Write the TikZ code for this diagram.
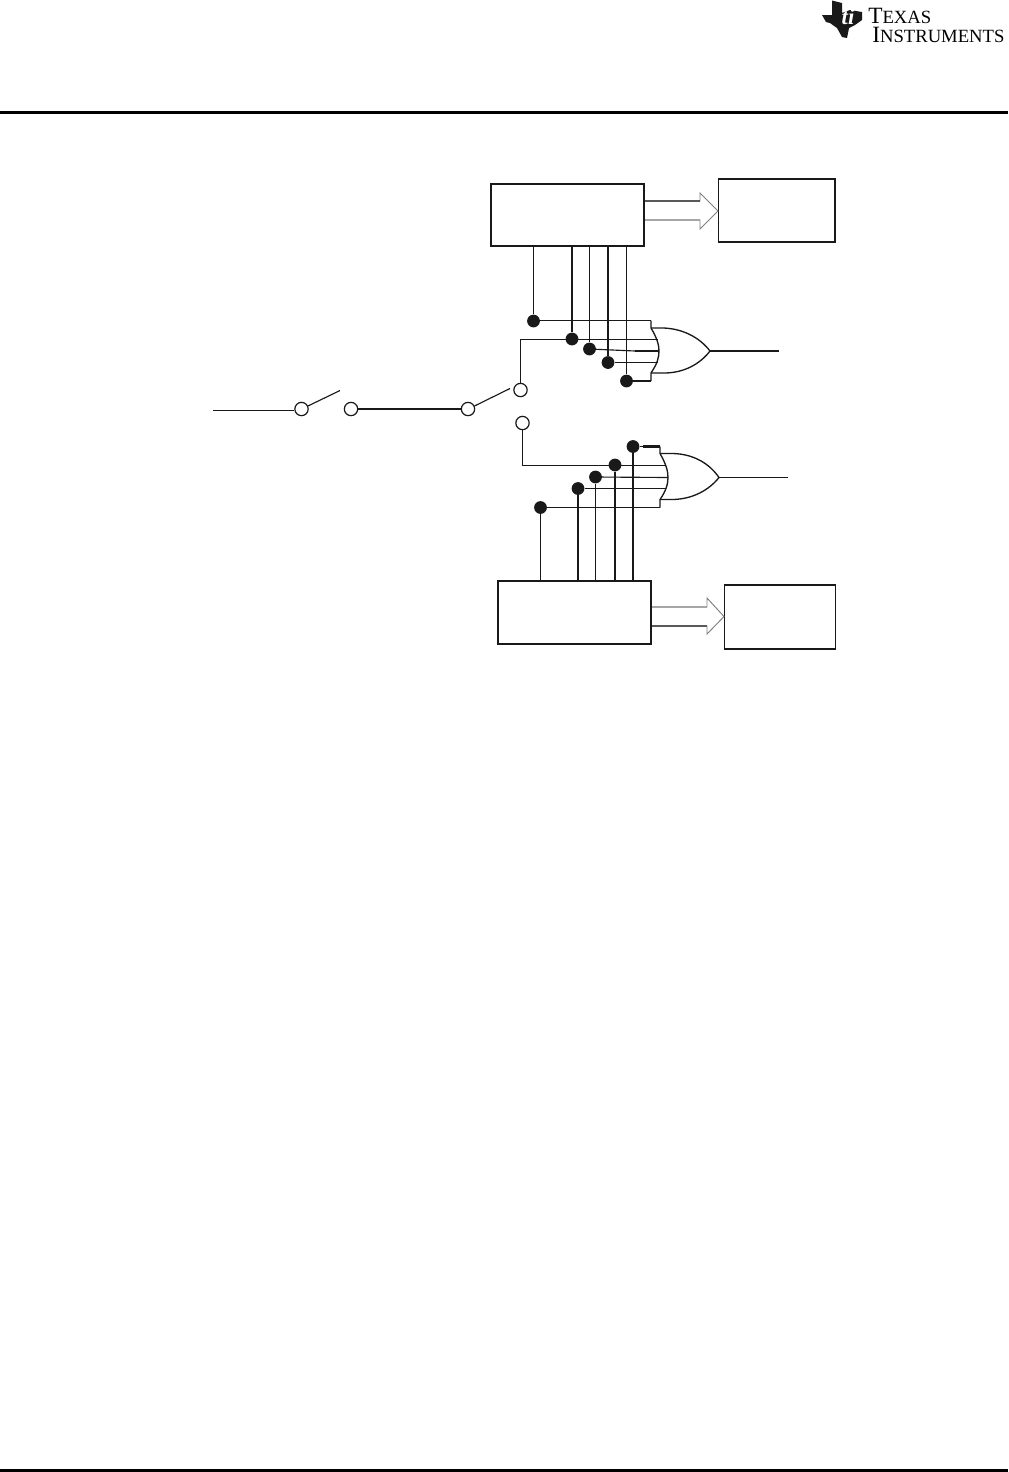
\documentclass[tikz,border=0pt]{standalone}
\usepackage{fontspec}
\setmainfont{Liberation Serif}
\tikzset{
  x=0.75pt,y=-0.75pt,
  thin line/.style={line width=0.85pt,draw=black!90},
  thick line/.style={line width=1.6pt,draw=black!90},
  blockbox/.style={draw=black!90,line width=1.2pt,fill=white,inner sep=0pt,anchor=north west},
  term/.style={circle,draw=black!90,line width=0.9pt,fill=white,minimum size=10pt,inner sep=0pt},
  dot/.style={circle,fill=black!90,minimum size=9.6pt,inner sep=0pt},
  busarrow/.style={draw=black!50,line width=0.7pt,fill=white,line join=miter},
  busdark/.style={draw=black!65,line width=0.8pt},
  buslight/.style={draw=black!35,line width=0.8pt},
  gateline/.style={line width=1pt,draw=black!90,line join=miter},
}
\begin{document}
\begin{tikzpicture}
\useasboundingbox (0,0) rectangle (1008,1472);
\fill[white] (0,0) rectangle (1008,1472);
% rules
\coordinate (hl) at (0,112.5); \coordinate (hr) at (1008,112.5);
\draw[line width=2.25pt,black] (hl) -- (hr);
\coordinate (fl) at (0,1470.5); \coordinate (fr) at (1008,1470.5);
\draw[line width=2.25pt,black] (fl) -- (fr);
% logo
\fill[black!90] (822,15) -- (832,15) -- (832,0.5) -- (842,3) -- (842,13) -- (850,10) -- (862,12) -- (862,20) -- (855,25) -- (849,28) -- (847,38) -- (842,37) -- (837,28) -- (830,23) -- (826,22) -- cycle;
\node[font=\bfseries\itshape\fontsize{17pt}{17pt}\selectfont,white,inner sep=0pt] (ti) at (848,17) {ti};
\node[anchor=north west,inner sep=0pt,align=left,font=\fontsize{17.5pt}{14.25pt}\selectfont] (logotext) at (868,8) {T{\fontsize{14pt}{14pt}\selectfont EXAS}\\\hspace*{3pt}I{\fontsize{14pt}{14pt}\selectfont NSTRUMENTS}};
% blocks
\node[blockbox,minimum width=115pt,minimum height=46.5pt] (A) at (490,183) {};
\node[blockbox,line width=1.4pt,minimum width=87.5pt,minimum height=47pt] (B) at (717.5,178) {};
\node[blockbox,line width=1.5pt,minimum width=115pt,minimum height=47.5pt] (C) at (496.5,580) {};
\node[blockbox,minimum width=83.5pt,minimum height=48pt] (D) at (723.5,584) {};
% bus arrows
\draw[busarrow] (645,201) -- (700,201) -- (700,193) -- (718,211) -- (700,229) -- (700,220) -- (645,220);
\draw[busdark] (645,201) -- (700,201);
\draw[buslight] (645,220) -- (700,220);
\draw[busarrow] (652,607) -- (707,607) -- (707,598) -- (724,616.5) -- (707,634) -- (707,626) -- (652,626);
\draw[buslight] (652,607) -- (707,607);
\draw[busdark] (652,626) -- (707,626);
% terminals
\node[term] (s1) at (301.5,409) {};
\node[term] (s2) at (351,409) {};
\node[term] (s3) at (468,409) {};
\node[term] (s4) at (520.5,390) {};
\node[term] (s5) at (522.5,423) {};
\coordinate (in) at (213,410.5);
\coordinate (b1) at (340,390.5);
\coordinate (b2) at (510,388.5);
\draw[thin line] (in) -- (in -| s1.west);
\draw[thin line] (s1.25) -- (b1);
\draw[thick line] (s2) -- (s3);
\draw[thin line] (s3.25) -- (b2);
% top dots
\node[dot] (a1) at (533.5,321) {};
\node[dot] (a2) at (572,339) {};
\node[dot] (a3) at (589.5,349) {};
\node[dot] (a4) at (608,362.5) {};
\node[dot] (a5) at (626.5,381) {};
\foreach \n/\w in {a1/thin line,a2/thick line,a3/thin line,a4/thick line,a5/thin line}
  \draw[\w] (\n) -- (\n |- A.south);
% gate top
\coordinate (gt1) at (651,320.5); \coordinate (gt2) at (651,328);
\coordinate (gt3) at (651,373); \coordinate (gt4) at (651,381);
\coordinate (gta) at (710,351); \coordinate (gto) at (779,351);
\coordinate (gti2) at (658,339.5); \coordinate (gti3) at (659,351); \coordinate (gti4) at (658,362.5);
\coordinate (st) at (520.5,339.5);
\coordinate (mt) at (635,351);
\draw[thin line] (s4) -- (st) -- (gti2);
\draw[thin line] (a1.east |- gt1) -- (gt1);
\draw[thin line] (a5) -- (gt4);
\draw[thin line] (a3) -- (mt);
\draw[thick line] (mt) -- (gti3);
\draw[thin line] (a4) -- (gti4);
\draw[gateline] (gt1) -- (gt2) .. controls (657,338) and (659,345) .. (gti3) .. controls (659,358) and (657,364) .. (gt3) -- (gt4);
\draw[gateline] (gt2) -- (664,328) .. controls (684,329) and (700,338) .. (gta) .. controls (700,364) and (684,373) .. (664,373) -- (gt3);
\draw[thick line] (gta) -- (gto);
% bottom dots
\node[dot] (c1) at (540.5,507.5) {};
\node[dot] (c2) at (578,488.5) {};
\node[dot] (c3) at (595.5,477) {};
\node[dot] (c4) at (615,465) {};
\node[dot] (c5) at (633,446.5) {};
\foreach \n/\w in {c1/thin line,c2/thick line,c3/thin line,c4/thick line,c5/thick line}
  \draw[\w] (\n) -- (\n |- C.north);
% gate bottom
\coordinate (gb1) at (660,446.5); \coordinate (gb2) at (660,453.5);
\coordinate (gb3) at (660,499.5); \coordinate (gb4) at (660,507.5);
\coordinate (gba) at (719,477.5); \coordinate (gbo) at (788,477.5);
\coordinate (gbi1) at (666,465.5); \coordinate (gbi2) at (668,477.5); \coordinate (gbi3) at (666,488.5);
\coordinate (sb) at (522.5,465.5);
\coordinate (mb) at (643,446.5);
\draw[thin line] (s5) -- (sb) -- (gbi1);
\draw[thin line] (c5) -- (mb);
\draw[thick line] (mb) -- (gb1);
\draw[thin line] (c3) -- (gbi2);
\draw[thin line] (c2) -- (gbi3);
\draw[thin line] (c1) -- (gb4);
\draw[gateline] (gb1) -- (gb2) .. controls (666,464) and (668,471) .. (gbi2) .. controls (668,484) and (666,491) .. (gb3) -- (gb4);
\draw[gateline] (gb2) -- (673,453.5) .. controls (693,454) and (709,463) .. (gba) .. controls (709,490) and (693,499) .. (673,499.5) -- (gb3);
\draw[thin line] (gba) -- (gbo);
\end{tikzpicture}
\end{document}
